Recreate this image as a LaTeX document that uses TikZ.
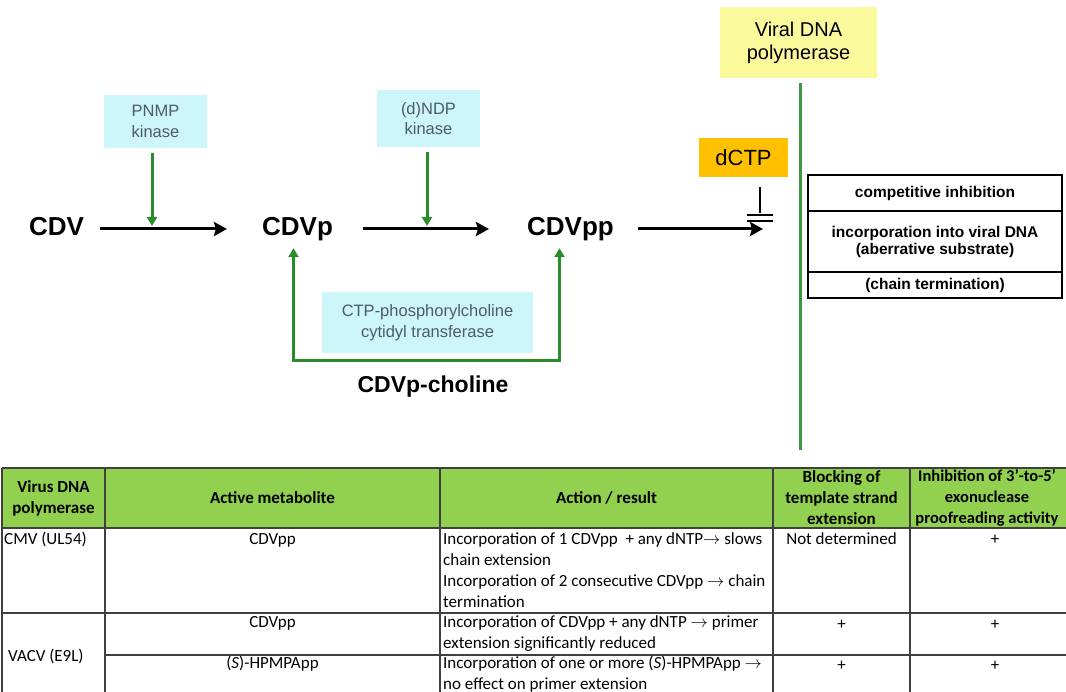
\documentclass[tikz,border=0pt]{standalone}
\usepackage{fontspec}
\setmainfont{Liberation Sans}
\newfontfamily\tabfont{Carlito}
\usetikzlibrary{arrows.meta,positioning}
\definecolor{enzcyan}{HTML}{CCF6FA}
\definecolor{polyellow}{HTML}{FAFA9C}
\definecolor{dctporange}{HTML}{FFC000}
\definecolor{hdrgreen}{HTML}{92D050}
\definecolor{pathgreen}{HTML}{2A8C2A}
\definecolor{enztext}{HTML}{4F5B63}
\definecolor{rulegray}{HTML}{404040}
\tikzset{
  metab/.style={
    font=\fontsize{26}{30}\selectfont\bfseries,
    inner sep=0pt, text height=19pt, text depth=5pt
  },
  enzbox/.style={
    rectangle, fill=enzcyan, text=enztext,
    font=\fontsize{16.5}{20.5}\selectfont, align=center,
    inner sep=0pt
  },
  polbox/.style={
    rectangle, fill=polyellow, minimum width=157pt, minimum height=71pt,
    font=\fontsize{20}{23}\selectfont, align=center, inner sep=0pt
  },
  dctpbox/.style={
    rectangle, fill=dctporange, minimum width=89pt, minimum height=39pt,
    font=\fontsize{22}{26}\selectfont, inner sep=0pt
  },
  effbox/.style={
    rectangle, draw=black, line width=2.5pt, minimum width=254pt,
    font=\fontsize{15.5}{17}\selectfont\bfseries, align=center,
    inner sep=0pt, outer sep=0pt
  },
  mainarrow/.style={
    -{Stealth[length=13pt, width=14pt, inset=2pt]}, line width=3pt
  },
  enzarrow/.style={
    -{Triangle[length=9pt, width=10pt]}, line width=3pt, color=pathgreen
  },
  loopline/.style={
    {Triangle[length=9pt, width=10pt]}-{Triangle[length=9pt, width=10pt]},
    line width=3pt, color=pathgreen
  },
  inhib/.style={line width=2.2pt},
  tabrule/.style={line width=1.5pt, color=rulegray},
  tabhead/.style={
    font=\tabfont\fontsize{17}{21}\selectfont\bfseries, align=center, inner sep=0pt
  },
  tabcell/.style={
    font=\tabfont\fontsize{17}{21}\selectfont, align=left, inner sep=0pt
  },
}

\begin{document}
\begin{tikzpicture}[x=1pt, y=-1pt]
  \useasboundingbox (0,0) rectangle (1066,692);

  % Metabolites
  \node[metab] (cdv) at (56.5,229) {CDV};
  \node[metab] (cdvp) at (297.5,229) {CDVp};
  \node[metab] (cdvpp) at (570.5,229) {CDVpp};
  \draw[mainarrow, shorten <=16pt, shorten >=35pt] (cdv) -- (cdvp);
  \draw[mainarrow, shorten <=30pt, shorten >=38pt] (cdvp) -- (cdvpp);

  % Kinases
  \node[enzbox, minimum width=103pt, minimum height=53pt] (pnmp) at (155.5,121.5) {PNMP\\kinase};
  \node[enzbox, minimum width=103pt, minimum height=57pt] (ndp) at (428.5,118.5) {(d)NDP\\kinase};
  \coordinate (k1) at (152,226);
  \coordinate (k2) at (427,226);
  \draw[enzarrow] ([yshift=-5pt]pnmp.south -| k1) -- (k1);
  \draw[enzarrow] ([yshift=-5pt]ndp.south -| k2) -- (k2);

  % Choline route
  \node[enzbox, minimum width=211pt, minimum height=61pt] (ctp) at (427.5,322.5)
    {CTP-phosphorylcholine\\cytidyl transferase};
  \node[font=\fontsize{23}{27}\selectfont\bfseries] (choline) at (433,387) {CDVp-choline};
  \draw[loopline] ([xshift=-4pt, yshift=-7pt]cdvp.south) -- ++(0,112)
    -| ([xshift=-11pt, yshift=-7pt]cdvpp.south);

  % Polymerase and dCTP
  \node[polbox] (pol) at (798.5,42.5) {Viral DNA\\polymerase};
  \coordinate (polend) at (800,450);
  \draw[line width=3pt, pathgreen!90!white] ([yshift=-5pt]pol.south -| polend) -- (polend);
  \node[dctpbox] (dctp) at (743.5,157.5) {dCTP};
  \coordinate (bar) at (760,215);
  \coordinate (tip) at (763,229);
  \draw[mainarrow, shorten <=24pt] (cdvpp) -- (tip);
  \draw[inhib] ([yshift=-10pt]dctp.south -| bar) -- ([yshift=2pt]bar);
  \draw[inhib] ([xshift=-13pt]bar) -- ([xshift=13pt]bar);
  \draw[inhib] ([xshift=-13pt, yshift=-6pt]bar) -- ([xshift=13pt, yshift=-6pt]bar);

  % Effects
  \node[effbox, minimum height=36pt] (eff1) at (935,193) {competitive inhibition};
  \node[effbox, minimum height=61pt, below=0pt of eff1] (eff2)
    {incorporation into viral DNA\\(aberrative substrate)};
  \node[effbox, minimum height=26pt, below=0pt of eff2] (eff3) {(chain termination)};

  % Table
  \fill[hdrgreen] (2,468) rectangle (1090,528);
  \draw[tabrule] (2,468) -- (1090,468);
  \draw[tabrule] (2,528) -- (1090,528);
  \draw[tabrule] (2,613) -- (1090,613);
  \draw[tabrule] (105,655) -- (1090,655);
  \foreach \cx in {2,105,440,773,910}
    \draw[tabrule] (\cx,468) -- (\cx,700);

  \node[tabhead] (h1) at (53.5,498) {Virus DNA\\polymerase};
  \node[tabhead] (h2) at (272.5,498) {Active metabolite};
  \node[tabhead] (h3) at (606.5,498) {Action / result};
  \node[tabhead] (h4) at (841.5,498) {Blocking of\\template strand\\extension};
  \node[tabhead, font=\tabfont\fontsize{16.5}{21}\selectfont\bfseries] (h5) at (987,498)
    {Inhibition of 3’-to-5’\\exonuclease\\proofreading activity};

  \node[tabcell, anchor=base west] (r1a) at (4,544) {CMV (UL54)};
  \node[tabcell, anchor=base] (r1b) at (272.5,544) {CDVpp};
  \node[tabcell, anchor=base west] (r1c) at (443,607)
    {Incorporation of 1 CDVpp\ \ + any dNTP$\rightarrow$ slows\\chain extension\\
     Incorporation of 2 consecutive CDVpp $\rightarrow$ chain\\termination};
  \node[tabcell, anchor=base] (r1d) at (841.5,544) {Not determined};
  \node[tabcell, anchor=base] (r1e) at (995,544) {+};

  \node[tabcell, anchor=west] (r2a) at (8,656) {VACV (E9L)};
  \node[tabcell, anchor=base] (r2b) at (272.5,627) {CDVpp};
  \node[tabcell, anchor=base west] (r2c) at (443,648)
    {Incorporation of CDVpp + any dNTP $\rightarrow$ primer\\extension significantly reduced};
  \node[tabcell, anchor=base] (r2d) at (841.5,629) {+};
  \node[tabcell, anchor=base] (r2e) at (995,629) {+};

  \node[tabcell, anchor=base] (r3b) at (272.5,668) {(\textit{S})-HPMPApp};
  \node[tabcell, anchor=base west] (r3c) at (443,689)
    {Incorporation of one or more (\textit{S})-HPMPApp $\rightarrow$\\no effect on primer extension};
  \node[tabcell, anchor=base] (r3d) at (841.5,670) {+};
  \node[tabcell, anchor=base] (r3e) at (995,670) {+};
\end{tikzpicture}
\end{document}
